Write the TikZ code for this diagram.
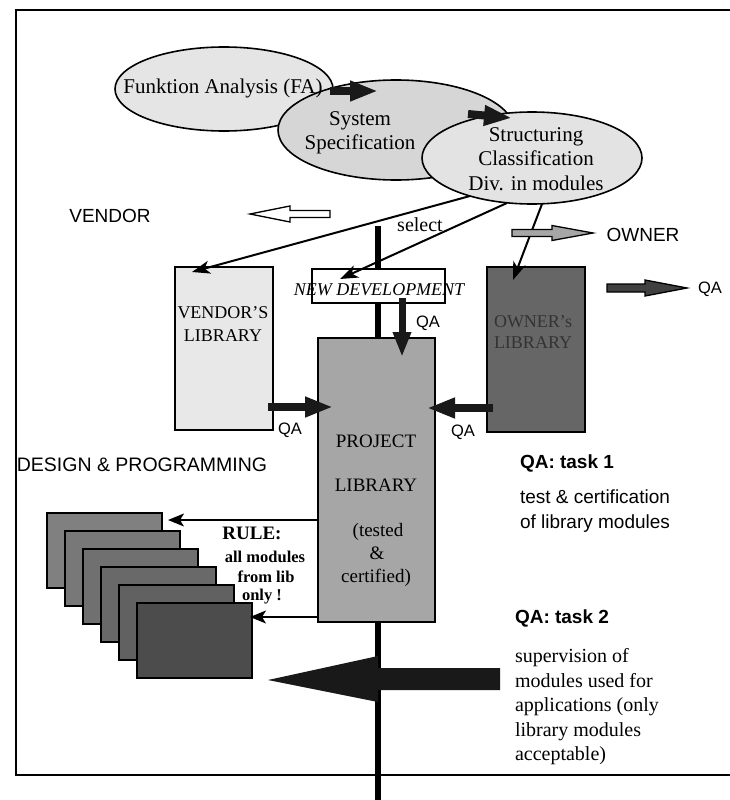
\documentclass[tikz,border=0pt]{standalone}
\usepackage{fontspec}
\setmainfont{Liberation Serif}
\newfontfamily\optfont{Liberation Sans}
\usetikzlibrary{arrows.meta,calc,shapes.geometric}
\begin{document}
\begin{tikzpicture}[x=1pt,y=-1pt,
  every node/.style={inner sep=0pt,outer sep=0pt},
  frame/.style={line width=1.3pt},
  ell/.style={ellipse,draw,line width=1.6pt},
  box/.style={rectangle,draw,line width=1.4pt},
  modbox/.style={rectangle,draw,line width=1.2pt,fill=black!55,minimum width=115pt,minimum height=75pt},
  elltext/.style={font=\fontsize{21}{24.5}\selectfont,align=center},
  boxtext/.style={font=\fontsize{18}{22}\selectfont,align=center},
  sanslabel/.style={font=\optfont\fontsize{19}{25}\selectfont,align=left},
  qalabel/.style={font=\optfont\fontsize{16.5}{20}\selectfont},
  serifnote/.style={font=\fontsize{20}{24.5}\selectfont,align=left},
  fat/.style={line width=8pt,draw=black!90,-{Triangle[width=19pt,length=28pt]}},
  thin/.style={line width=2pt,-{Stealth[length=18pt,width=13pt,inset=5pt]}},
  thinner/.style={line width=1.5pt,-{Stealth[length=16pt,width=13pt,inset=4pt]}},
  spine/.style={line width=6pt},
  blockarrow/.style={draw,line width=1.3pt,line join=miter}
]
\useasboundingbox (0,0) rectangle (730,800);
% frame
\draw[frame] (730,10) -- (16,10) -- (16,775) -- (730,775);

% vertical spine
\coordinate (spinetop) at (378,226);
\coordinate (spinebot) at (378,800);
\draw[spine] (spinetop) -- (spinebot);

% ellipses
\node[ell,fill=black!10,minimum width=218pt,minimum height=84pt] (fa) at (224,89) {};
\node[ell,fill=black!16,minimum width=236pt,minimum height=100pt] (sys) at (396,130) {};
\node[ell,fill=black!11,minimum width=220pt,minimum height=92pt] (str) at (532,158) {};
\node[elltext] (tfa) at (223,88) {Funktion Analysis (FA)};
\node[elltext] (tsys) at (360,133) {System\\Specification};
\node[elltext] (tstr) at (536,159) {Structuring\\Classification\\Div. in modules};

\draw[fat] ($(fa.east)+(-3,2)$) -- ($(sys.center)+(-18,-39)$);
\draw[fat] ($(sys.center)+(72,-16)$) -- ($(str.center)+(-20,-40)$);

% libraries
\node[box,fill=black!9,minimum width=98pt,minimum height=163pt] (vlib) at (224,348.5) {};
\node[box,fill=white,minimum width=133pt,minimum height=34pt] (nd) at (378.5,286) {};
\node[box,fill=black!60,minimum width=98pt,minimum height=165pt] (olib) at (536,349.5) {};
\node[box,fill=black!35,minimum width=117pt,minimum height=284pt] (proj) at (376.5,480) {};

\node[boxtext] (tv1) at (223,313) {VENDOR'S};
\node[boxtext] (tv2) at (223,336) {LIBRARY};
\node[boxtext,font=\itshape\fontsize{18}{22}\selectfont] (tnd) at (379,290) {NEW DEVELOPMENT};
\node[boxtext,text=black!80] (to1) at (533,322) {OWNER's};
\node[boxtext,text=black!80] (to2) at (533,343) {LIBRARY};
\node[boxtext,font=\fontsize{19}{22}\selectfont] (tp1) at (376,441) {PROJECT};
\node[boxtext,font=\fontsize{19}{22}\selectfont] (tp2) at (376,485) {LIBRARY};
\node[boxtext,font=\fontsize{19}{22}\selectfont] (tp3) at (378,532) {(tested};
\node[boxtext,font=\fontsize{19}{22}\selectfont] (tp4) at (377,553) {\&};
\node[boxtext,font=\fontsize{19}{22}\selectfont] (tp5) at (376,578) {certified)};

% selection connectors
\draw[thin] ($(str.center)+(-62,38)$) -- ($(vlib.center)+(-32,-76.5)$);
\draw[thin] ($(str.center)+(-25,45)$) -- ($(nd.center)+(-38.5,-7)$);
\draw[thin] ($(str.center)+(10,46)$) -- ($(olib.center)+(-23,-69.5)$);
\node[font=\fontsize{20}{24}\selectfont] (sel) at (420,225) {select};

% QA arrows into project library
\draw[fat,line width=7pt,-{Triangle[width=17pt,length=25pt]}] ($(nd.center)+(23.5,12)$) -- ($(proj.north)+(25.5,19)$);
\draw[fat] ($(vlib.east)+(-5,58.5)$) -- ($(proj.west)+(15,-73)$);
\draw[fat] ($(olib.west)+(6,58.5)$) -- ($(proj.east)+(-8,-72)$);
\node[qalabel] (qa1) at (428,323) {QA};
\node[qalabel] (qa2) at (290,430) {QA};
\node[qalabel] (qa3) at (463,432) {QA};

% vendor / owner block arrows
\draw[blockarrow,fill=white] (250,214) -- (290,206) -- (290,210.5) -- (330,210.5) -- (330,217.5) -- (290,217.5) -- (290,222) -- cycle;
\draw[blockarrow,fill=black!35] (512,229.5) -- (552,229.5) -- (552,225.5) -- (593,233) -- (552,240.5) -- (552,236.5) -- (512,236.5) -- cycle;
\draw[blockarrow,fill=black!75] (607,284) -- (645,284) -- (645,280) -- (687,288) -- (645,296) -- (645,292) -- (607,292) -- cycle;
\node[sanslabel] (vendor) at (110,216) {VENDOR};
\node[sanslabel] (owner) at (643,235) {OWNER};
\node[qalabel] (qa4) at (710,289) {QA};

% design & programming
\node[sanslabel,font=\optfont\fontsize{19.5}{24}\selectfont] (dp) at (142,465) {DESIGN \& PROGRAMMING};
\node[modbox,fill=black!50] (m1) at (104.5,550.5) {};
\node[modbox,fill=black!53] (m2) at (122.5,568.5) {};
\node[modbox,fill=black!56] (m3) at (140.5,586.5) {};
\node[modbox,fill=black!59] (m4) at (158.5,604.5) {};
\node[modbox,fill=black!62] (m5) at (176.5,622.5) {};
\node[modbox,fill=black!70] (m6) at (194.5,640.5) {};

\draw[thinner] ($(proj.west)+(0,40)$) -- ($(m1.east)+(6,-30.5)$);
\draw[thinner] ($(proj.west)+(0,137)$) -- ($(m6.east)+(-2,-23.5)$);

\node[font=\bfseries\fontsize{19}{22}\selectfont] (r1) at (252,533) {RULE:};
\node[font=\bfseries\fontsize{16.5}{20}\selectfont] (r2) at (265,557) {all modules};
\node[font=\bfseries\fontsize{16.5}{20}\selectfont] (r3) at (266,577) {from lib};
\node[font=\bfseries\fontsize{16.5}{20}\selectfont] (r4) at (262,597) {only !};

% big supervision arrow
\fill[black!90] (268,680) -- (378,656) -- (378,668) -- (500,668) -- (500,690) -- (378,690) -- (378,702) -- cycle;

% QA tasks
\node[sanslabel,font=\optfont\bfseries\fontsize{19}{24}\selectfont,anchor=west] (t1) at (520,463) {QA: task 1};
\node[sanslabel,anchor=west] (t1b) at (520,511) {test \& certification\\of library modules};
\node[sanslabel,font=\optfont\bfseries\fontsize{19}{24}\selectfont,anchor=west] (t2) at (515,618) {QA: task 2};
\node[serifnote,anchor=west] (t2b) at (515,707) {supervision of\\modules used for\\applications (only\\library modules\\acceptable)};
\end{tikzpicture}
\end{document}
